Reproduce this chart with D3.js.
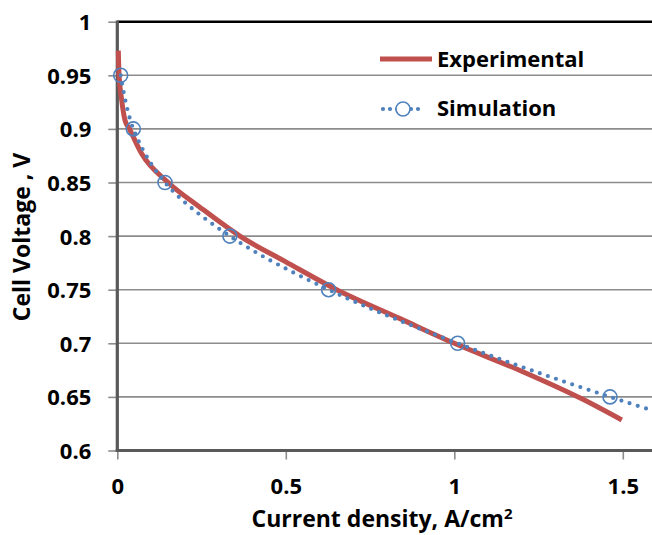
<!DOCTYPE html>
<html>
<head>
<meta charset="utf-8">
<script src="https://cdn.jsdelivr.net/npm/d3@7"></script>
<style>
	body { margin: 0; background: #fff; }
	svg { display: block; overflow: hidden; }
	text { font-family: "Open Sans", Lato, sans-serif; font-weight: bold; fill: #000; }
</style>
</head>
<body>
<div id="chart"></div>
<script>

// measured data (current density A/cm2, cell voltage V)
let expCurrent	= [0.003, 0.005, 0.013, 0.023, 0.036, 0.072, 0.151, 0.245, 0.364, 0.5, 0.651, 0.839, 1.0, 1.2, 1.38, 1.497],
	expVoltage	= [0.973, 0.952, 0.927, 0.908, 0.9, 0.877, 0.85, 0.827, 0.8, 0.776, 0.75, 0.723, 0.7, 0.674, 0.648, 0.6285];

// simulated data
let simCurrent	= [0.01, 0.0475, 0.1415, 0.334, 0.627, 1.01, 1.462, 1.98],
	simVoltage	= [0.95, 0.9, 0.85, 0.8, 0.75, 0.7, 0.65, 0.6];

let xTicks		= [0, 0.5, 1, 1.5],
	yTicks		= [0.6, 0.65, 0.7, 0.75, 0.8, 0.85, 0.9, 0.95, 1],
	seriesNames	= ["Experimental", "Simulation"],
	xTitle		= "Current density, A/cm",
	yTitle		= "Cell Voltage , V";

function draw() {

	let width	= 652,
		height	= 535,
		left	= 117.3,
		top		= 21.7,
		bottom	= 450.5,
		expColor = "#c0504d",
		simColor = "#4f81bd",
		gridColor = "#8c8c8c",
		axisColor = "#595959";

	let svg = d3.select("#chart")
		.append("svg")
			.attr("width", width)
			.attr("height", height);

	let x = d3.scaleLinear()
		.domain([0, 1.6])
		.range([left, left + 1.6 * 337]);

	let y = d3.scaleLinear()
		.domain([0.6, 1])
		.range([bottom, top]);

	// gridlines
	svg.append("g")
		.selectAll("line")
		.data(yTicks.filter(d => d > 0.6 && d < 1))
			.enter()
				.append("line")
					.attr("x1", left)
					.attr("x2", width)
					.attr("y1", d => y(d))
					.attr("y2", d => y(d))
					.style("stroke", gridColor)
					.style("stroke-width", 1.6);

	// top border
	svg.append("line")
		.attr("x1", left)
		.attr("x2", width)
		.attr("y1", y(1))
		.attr("y2", y(1))
		.style("stroke", "#000")
		.style("stroke-width", 2.6);

	// y axis
	let yAxis = svg.append("g")
		.attr("transform", "translate(" + left + ",0)")
		.call(d3.axisLeft(y).tickValues(yTicks).tickSize(9).tickPadding(17).tickFormat(d => d));

	yAxis.select(".domain").remove();
	yAxis.selectAll(".tick line").style("stroke", gridColor).style("stroke-width", 1.6);
	yAxis.selectAll(".tick text")
		.attr("dy", "0.36em")
		.style("font-size", "22px")
		.style("font-family", null);

	// x axis
	let xAxis = svg.append("g")
		.attr("transform", "translate(0," + bottom + ")")
		.call(d3.axisBottom(x).tickValues(xTicks).tickSize(9).tickFormat(d => d));

	xAxis.select(".domain").remove();
	xAxis.selectAll(".tick line").style("stroke", gridColor).style("stroke-width", 1.6);
	xAxis.selectAll(".tick text")
		.attr("y", 43)
		.attr("dy", 0)
		.style("font-size", "22px")
		.style("font-family", null);

	// axis lines
	svg.append("line")
		.attr("x1", left)
		.attr("x2", left)
		.attr("y1", top - 1.3)
		.attr("y2", bottom + 1.5)
		.style("stroke", axisColor)
		.style("stroke-width", 3.2);

	svg.append("line")
		.attr("x1", left - 1.6)
		.attr("x2", width)
		.attr("y1", bottom)
		.attr("y2", bottom)
		.style("stroke", axisColor)
		.style("stroke-width", 3.2);

	// series
	let expData = expCurrent.map((d, i) => [d, expVoltage[i]]),
		simData = simCurrent.map((d, i) => [d, simVoltage[i]]);

	let expLine = d3.line()
		.x(d => x(d[0]))
		.y(d => y(d[1]))
		.curve(d3.curveMonotoneX);

	let simLine = d3.line()
		.x(d => x(d[0]))
		.y(d => y(d[1]))
		.curve(d3.curveCatmullRom.alpha(0.5));

	svg.append("path")
		.datum(expData)
		.attr("d", expLine)
		.style("fill", "none")
		.style("stroke", expColor)
		.style("stroke-width", 5);

	svg.append("path")
		.datum(simData)
		.attr("d", simLine)
		.style("fill", "none")
		.style("stroke", simColor)
		.style("stroke-width", 4.2)
		.style("stroke-linecap", "round")
		.style("stroke-dasharray", "0 8.6");

	svg.append("g")
		.selectAll("circle")
		.data(simData)
			.enter()
				.append("circle")
					.attr("cx", d => x(d[0]))
					.attr("cy", d => y(d[1]))
					.attr("r", 7)
					.style("fill", "none")
					.style("stroke", simColor)
					.style("stroke-width", 1.6);

	// legend
	let legend = svg.append("g");

	legend.append("line")
		.attr("x1", 380)
		.attr("x2", 432)
		.attr("y1", 59)
		.attr("y2", 59)
		.style("stroke", expColor)
		.style("stroke-width", 5);

	legend.append("line")
		.attr("x1", 383)
		.attr("x2", 424)
		.attr("y1", 109)
		.attr("y2", 109)
		.style("stroke", simColor)
		.style("stroke-width", 4.2)
		.style("stroke-linecap", "round")
		.style("stroke-dasharray", "0 7");

	legend.append("circle")
		.attr("cx", 403)
		.attr("cy", 109)
		.attr("r", 7)
		.style("fill", "#fff")
		.style("stroke", simColor)
		.style("stroke-width", 1.6);

	legend.selectAll("text")
		.data(seriesNames)
			.enter()
				.append("text")
					.attr("x", 437)
					.attr("y", (d, i) => 66.7 + i * 49.5)
					.style("font-size", "22px")
					.text(d => d);

	// titles
	let xt = svg.append("text")
		.attr("x", 382)
		.attr("y", 527)
		.attr("text-anchor", "middle")
		.style("font-size", "23px")
		.text(xTitle);

	xt.append("tspan")
		.attr("dy", -8)
		.style("font-size", "15px")
		.text("2");

	svg.append("text")
		.attr("transform", "translate(30,237) rotate(-90)")
		.attr("text-anchor", "middle")
		.style("font-size", "23px")
		.text(yTitle);
};

draw();

</script>
</body>
</html>
